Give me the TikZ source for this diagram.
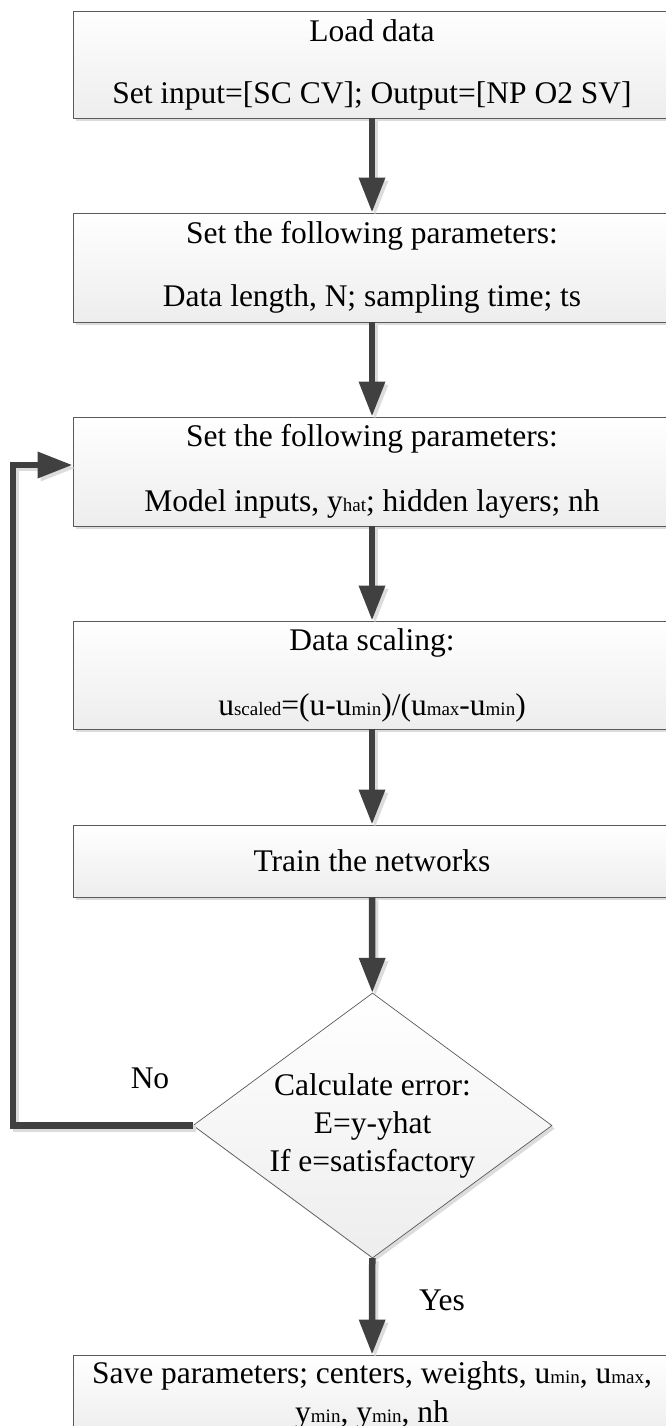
\documentclass[tikz,border=0pt]{standalone}
\usepackage{fontspec}
\setmainfont{Liberation Serif}
\usetikzlibrary{arrows.meta,shapes.geometric,shadows}

% small inline index text (min, max, hat, scaled)
\newcommand{\lo}[1]{{\fontsize{19}{20}\selectfont #1}}

\definecolor{linegray}{HTML}{404040}
\definecolor{framegray}{HTML}{5A5A5A}
\definecolor{shadegray}{HTML}{DCDCDC}

\tikzset{
  procbox/.style={draw=framegray, line width=0.9pt, rectangle,
    top color=white, bottom color=black!7,
    drop shadow={shadow xshift=3pt, shadow yshift=-3pt, fill=shadegray, opacity=1},
    align=center, inner sep=0pt,
    font=\fontsize{31.5}{37}\selectfont},
  decision/.style={draw=framegray, line width=0.7pt, diamond, aspect=1.36,
    top color=white, bottom color=black!7,
    drop shadow={shadow xshift=3pt, shadow yshift=-3pt, fill=shadegray, opacity=1},
    align=center, inner sep=0pt,
    minimum width=359pt, minimum height=265pt,
    font=\fontsize{31.5}{38}\selectfont},
  conn/.style={draw=linegray, line width=6.5pt, line join=miter,
    -{Triangle[length=35pt,width=25pt]}},
  connshade/.style={conn, draw=shadegray,
    transform canvas={shift={(3pt,-3pt)}}},
  tag/.style={font=\fontsize{31.5}{37}\selectfont}
}

\begin{document}
\begin{tikzpicture}[x=1pt,y=-1pt]
\useasboundingbox (0,0) rectangle (665,1426);

% process boxes
\node[procbox, minimum width=598pt, minimum height=107pt] (load) at (372,64.5)
  {Load data\\[25pt]Set input=[SC CV]; Output=[NP O2 SV]};
\node[procbox, minimum width=598pt, minimum height=109pt] (setA) at (372,267.5)
  {Set the following parameters:\\[26pt]Data length, N; sampling time; ts};
\node[procbox, minimum width=598pt, minimum height=109pt] (setB) at (372,471.5)
  {Set the following parameters:\\[28pt]Model inputs, y\lo{hat}; hidden layers; nh};
\node[procbox, minimum width=598pt, minimum height=108pt] (scale) at (372,675)
  {Data scaling:\\[28pt]u\lo{scaled}=(u-u\lo{min})/(u\lo{max}-u\lo{min})};
\node[procbox, minimum width=598pt, minimum height=72pt] (train) at (372,861)
  {Train the networks};
\node[decision] (check) at (372.5,1125.5)
  {Calculate error:\\E=y-yhat\\If e=satisfactory};
\node[procbox, minimum width=598pt, minimum height=80pt] (save) at (372,1395)
  {Save parameters; centers, weights, u\lo{min}, u\lo{max},\\[2pt]y\lo{min}, y\lo{min}, nh};

% loop-back corner
\coordinate (lp) at (13,465);

% connector shadows
\draw[connshade] (load) -- (setA);
\draw[connshade] (setA) -- (setB);
\draw[connshade] (setB) -- (scale);
\draw[connshade] (scale) -- (train);
\draw[connshade] (train) -- (check);
\draw[connshade] (check) -- (save);
\draw[connshade] (check.west) -| (lp) -- (lp -| setB.west);

% connectors
\draw[conn] (load) -- (setA);
\draw[conn] (setA) -- (setB);
\draw[conn] (setB) -- (scale);
\draw[conn] (scale) -- (train);
\draw[conn] (train) -- (check);
\draw[conn] (check) -- (save);
\draw[conn] (check.west) -| (lp) -- (lp -| setB.west);

% branch labels
\node[tag] (no) at (150,1078) {No};
\node[tag] (yes) at (442,1300) {Yes};
\end{tikzpicture}
\end{document}
